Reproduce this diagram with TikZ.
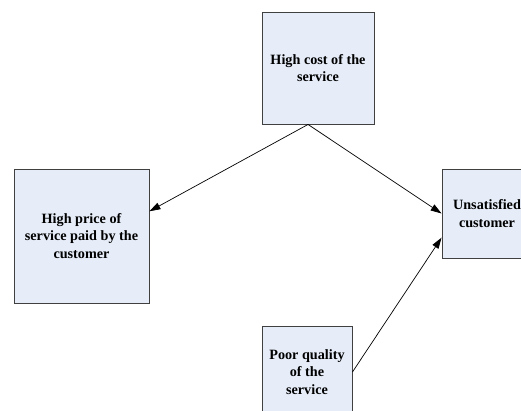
\documentclass[tikz,border=0pt]{standalone}
\usepackage{fontspec}
\setmainfont{Liberation Serif}
\usetikzlibrary{arrows.meta}
\definecolor{boxfill}{RGB}{230,237,248}
\definecolor{boxline}{RGB}{64,64,64}
\begin{document}
\begin{tikzpicture}[x=1pt, y=-1pt]
    \tikzstyle{cause}=[rectangle, draw=boxline, fill=boxfill, line width=0.9pt,
                       inner sep=2pt, align=center,
                       font=\fontsize{14.2}{17.5}\selectfont\bfseries]
    \tikzstyle{link}=[line width=0.7pt, -{Triangle[length=11pt, width=7pt]}]
    \useasboundingbox (0,0) rectangle (521,411);
    \node[cause, minimum width=112pt, minimum height=112pt] (cost) at (318,68)
        {High cost of the\\service};
    \node[cause, minimum width=135pt, minimum height=134pt] (price) at (81.5,236)
        {High price of\\service paid by the\\customer};
    \node[cause, minimum width=90pt, minimum height=89pt] (unsat) at (487,213.5)
        {Unsatisfied\\customer};
    \node[cause, minimum width=90pt, minimum height=92pt] (poor) at (307,372)
        {Poor quality\\of the\\service};

    \draw[link] (cost.-100) -- (price.20);
    \draw[link] (cost.-100) -- (unsat.west);
    \draw[link] (poor.east) -- (unsat.208);
\end{tikzpicture}
\end{document}
